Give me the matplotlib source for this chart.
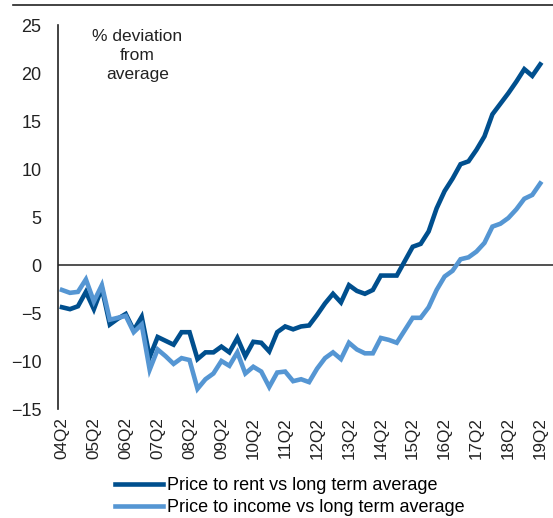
import matplotlib.pyplot as plt
from matplotlib.lines import Line2D

plt.rcParams['font.family'] = ['Liberation Sans', 'DejaVu Sans']

# Quarterly data, 04Q2 .. 19Q2 (% deviation from long term average)
quarters = [f"{y:02d}Q{q}" for y in range(4, 20) for q in range(1, 5)][1:62]
price_to_rent = [
    -4.4, -4.6, -4.3, -2.8, -4.6, -2.4, -6.2, -5.6, -5.1, -6.8,
    -5.4, -9.6, -7.5, -7.9, -8.3, -7.0, -7.0, -9.8, -9.1, -9.1,
    -8.5, -9.1, -7.6, -9.5, -8.0, -8.1, -9.0, -7.0, -6.4, -6.7,
    -6.4, -6.3, -5.2, -4.0, -3.0, -3.9, -2.1, -2.7, -3.0, -2.6,
    -1.1, -1.1, -1.1, 0.4, 1.9, 2.2, 3.5, 5.9, 7.7, 9.0,
    10.5, 10.8, 12.0, 13.4, 15.7, 16.8, 17.9, 19.1, 20.4, 19.7,
    20.9,
]
price_to_income = [
    -2.6, -2.9, -2.8, -1.5, -3.8, -2.1, -5.7, -5.5, -5.3, -7.0,
    -6.2, -10.9, -8.8, -9.5, -10.3, -9.7, -9.9, -12.9, -11.9, -11.3,
    -10.0, -10.5, -9.1, -11.3, -10.6, -11.1, -12.7, -11.2, -11.1, -12.1,
    -11.9, -12.2, -10.8, -9.7, -9.1, -9.8, -8.1, -8.8, -9.2, -9.2,
    -7.6, -7.8, -8.1, -6.8, -5.5, -5.5, -4.4, -2.6, -1.2, -0.6,
    0.6, 0.8, 1.4, 2.3, 4.0, 4.3, 4.9, 5.8, 6.9, 7.3,
    8.5,
]
series_labels = ["Price to rent vs long term average",
                 "Price to income vs long term average"]
yticks = [-15, -10, -5, 0, 5, 10, 15, 20, 25]

dark = '#004F8E'
light = '#5596D3'

fig = plt.figure(figsize=(5.53, 5.18), dpi=100)
ax = fig.add_axes([58 / 553, 109 / 518, 1 - 58 / 553, 384 / 518])

x = list(range(len(quarters)))
l1, = ax.plot(x, price_to_rent, color=dark, lw=3.3, solid_joinstyle='miter')
l2, = ax.plot(x, price_to_income, color=light, lw=3.3, solid_joinstyle='miter')
ax.axhline(0, color='#222222', lw=1.1, zorder=0)

ax.set_xlim(-0.5, 61.6)
ax.set_ylim(-15, 25)
ax.set_yticks(yticks)
ax.set_xticks(x[::4])
ax.set_xticklabels(quarters[::4], rotation=90, fontsize=12.3, color='#222222')
ax.tick_params(axis='y', labelsize=13, length=0, pad=12, labelcolor='#222222')
ax.tick_params(axis='x', length=0, pad=6)
for s in ['top', 'right', 'bottom']:
    ax.spines[s].set_visible(False)
ax.spines['left'].set_color('#222222')
ax.spines['left'].set_linewidth(1.2)

ax.text(0.16, 0.99, "% deviation\nfrom\naverage", transform=ax.transAxes,
        ha='center', va='top', fontsize=12.5, color='#222222', linespacing=1.35)

fig.legend([l1, l2], series_labels, loc='upper left',
           bbox_to_anchor=(115 / 553, 1 - 477 / 518), frameon=False,
           fontsize=13, handlelength=2.65, handletextpad=0.22,
           borderpad=0, borderaxespad=0, labelspacing=0.28)

# thin rule along the top of the figure
fig.add_artist(Line2D([13 / 553, 1], [1 - 5 / 518, 1 - 5 / 518],
                      color='#222222', lw=1.2))

fig.savefig('out.png', dpi=100)
